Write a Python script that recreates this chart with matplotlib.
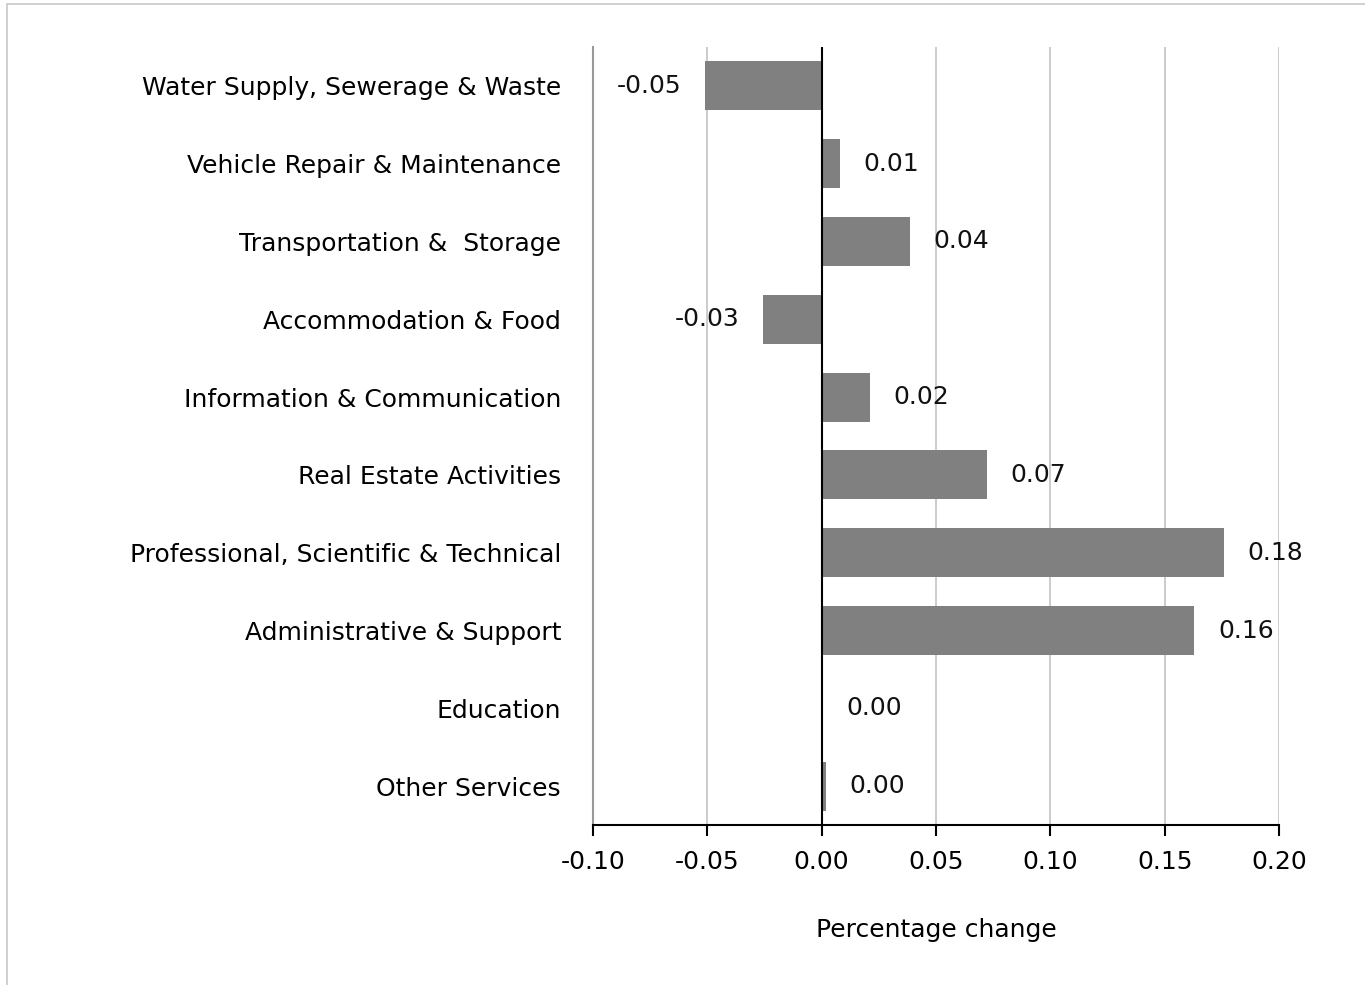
import matplotlib.pyplot as plt
from matplotlib.patches import Rectangle
import numpy as np

plt.rcParams['font.family'] = ['DejaVu Sans']

categories = [
    "Water Supply, Sewerage & Waste",
    "Vehicle Repair & Maintenance",
    "Transportation &  Storage",
    "Accommodation & Food",
    "Information & Communication",
    "Real Estate Activities",
    "Professional, Scientific & Technical",
    "Administrative & Support",
    "Education",
    "Other Services",
]
values = [-0.0512, 0.0079, 0.0385, -0.0258, 0.0210, 0.0722, 0.1758, 0.1630, 0.0002, 0.0017]
ticks = [-0.10, -0.05, 0.00, 0.05, 0.10, 0.15, 0.20]

FS = 18

fig = plt.figure(figsize=(13.65, 9.85), dpi=100)
fig.patches.append(Rectangle((7 / 1365, -0.1), 1.2, 1 - 4 / 985 + 0.1,
                             transform=fig.transFigure, fill=False,
                             edgecolor="#c8c8c8", linewidth=1.2))

ax = fig.add_axes([593 / 1365, 1 - 825 / 985, 686 / 1365, 778 / 985])

y = np.arange(len(categories))
ax.barh(y, values, height=0.63, color="#808080", zorder=3)

for yi, v in zip(y, values):
    if v < 0:
        ax.text(v - 0.010, yi, f"{v:.2f}", ha="right", va="center", fontsize=FS, color="#111111")
    else:
        ax.text(v + 0.0105, yi, f"{abs(v):.2f}", ha="left", va="center", fontsize=FS, color="#111111")

ax.axvline(0, color="black", linewidth=1.5, zorder=4)

ax.set_xlim(-0.10, 0.20)
ax.set_ylim(len(categories) - 0.5, -0.5)
ax.set_xticks(ticks)
ax.set_xticklabels([f"{t:.2f}" for t in ticks], fontsize=FS)
ax.set_yticks(y)
ax.set_yticklabels(categories, fontsize=FS)
ax.tick_params(axis="y", length=0, pad=23)
ax.tick_params(axis="x", length=8, width=1.5, direction="out", pad=10)

ax.grid(axis="x", color="#c8c8c8", linewidth=1.3, zorder=0)
for s in ["top", "right"]:
    ax.spines[s].set_visible(False)
ax.spines["left"].set_color("#999999")
ax.spines["left"].set_linewidth(1.5)
ax.spines["bottom"].set_linewidth(1.5)

ax.set_xlabel("Percentage change", fontsize=FS, labelpad=32)

fig.savefig("out.png", dpi=100)
